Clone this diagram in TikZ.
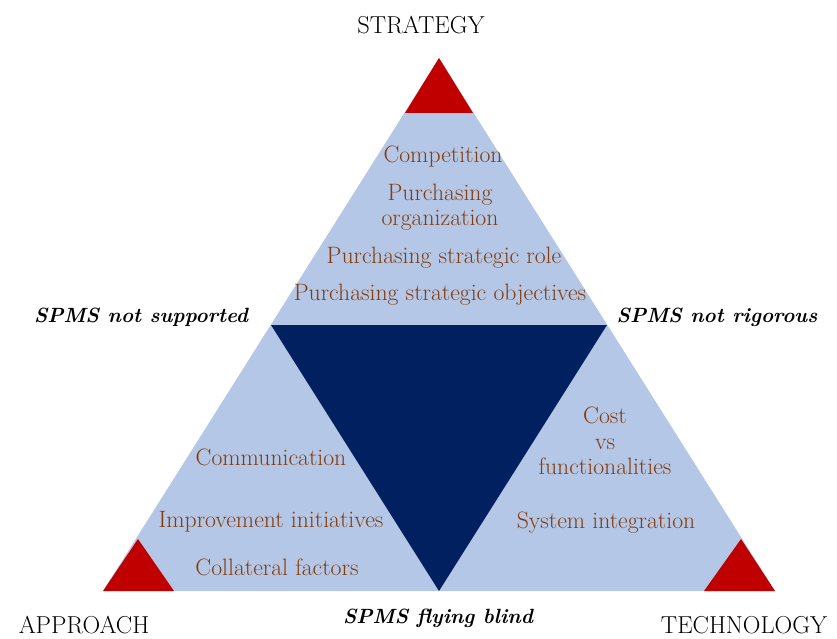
\documentclass[tikz,border=0pt]{standalone}
\definecolor{paleblue}{HTML}{B4C7E7}
\definecolor{deepnavy}{HTML}{002060}
\definecolor{cornerred}{HTML}{C00000}
\definecolor{factorbrown}{HTML}{843C0C}
\begin{document}
\begin{tikzpicture}[x=1pt,y=-1pt,
  factor/.style={text=factorbrown, align=center, inner sep=0pt,
    font=\fontsize{23.7}{25.5}\selectfont},
  pole/.style={inner sep=0pt, font=\fontsize{24.5}{28}\selectfont},
  diagnosis/.style={inner sep=0pt, font=\fontsize{20.6}{24}\selectfont\bfseries\itshape}]
\useasboundingbox (0,0) rectangle (837,639);

% outer triangle and its vertices
\coordinate (apex) at (439,58);
\coordinate (lowleft) at (103,591);
\coordinate (lowright) at (775,591);
\coordinate (midleft) at (271,325);
\coordinate (midright) at (607,325);
\coordinate (midbase) at (439,591);

\fill[paleblue] (apex) -- (lowleft) -- (lowright) -- cycle;
\fill[deepnavy] (midleft) -- (midright) -- (midbase) -- cycle;

% red corner markers
\fill[cornerred] (apex) -- (405,113) -- (473,113) -- cycle;
\fill[cornerred] (138,539) -- (lowleft) -- (174,591) -- cycle;
\fill[cornerred] (741,539) -- (704,591) -- (lowright) -- cycle;

% poles
\node[pole] (strategy) at (421,25) {STRATEGY};
\node[pole] (approach) at (84,625) {APPROACH};
\node[pole] (technology) at (744,625) {TECHNOLOGY};

% diagnoses
\node[diagnosis] (notsupported) at (141,317) {SPMS not supported};
\node[diagnosis] (notrigorous) at (717,317) {SPMS not rigorous};
\node[diagnosis] (flyingblind) at (438,618) {SPMS flying blind};

% strategy factors
\node[factor] (competition) at (443,157) {Competition};
\node[factor] (organization) at (440,207) {Purchasing\\organization};
\node[factor] (role) at (444,258) {Purchasing strategic role};
\node[factor] (objectives) at (440,295) {Purchasing strategic objectives};

% approach factors
\node[factor] (communication) at (271,457) {Communication};
\node[factor] (improvement) at (271,522) {Improvement initiatives};
\node[factor] (collateral) at (277,567) {Collateral factors};

% technology factors
\node[factor] (cost) at (605,441) {Cost\\vs\\functionalities};
\node[factor] (integration) at (606,523) {System integration};
\end{tikzpicture}
\end{document}
